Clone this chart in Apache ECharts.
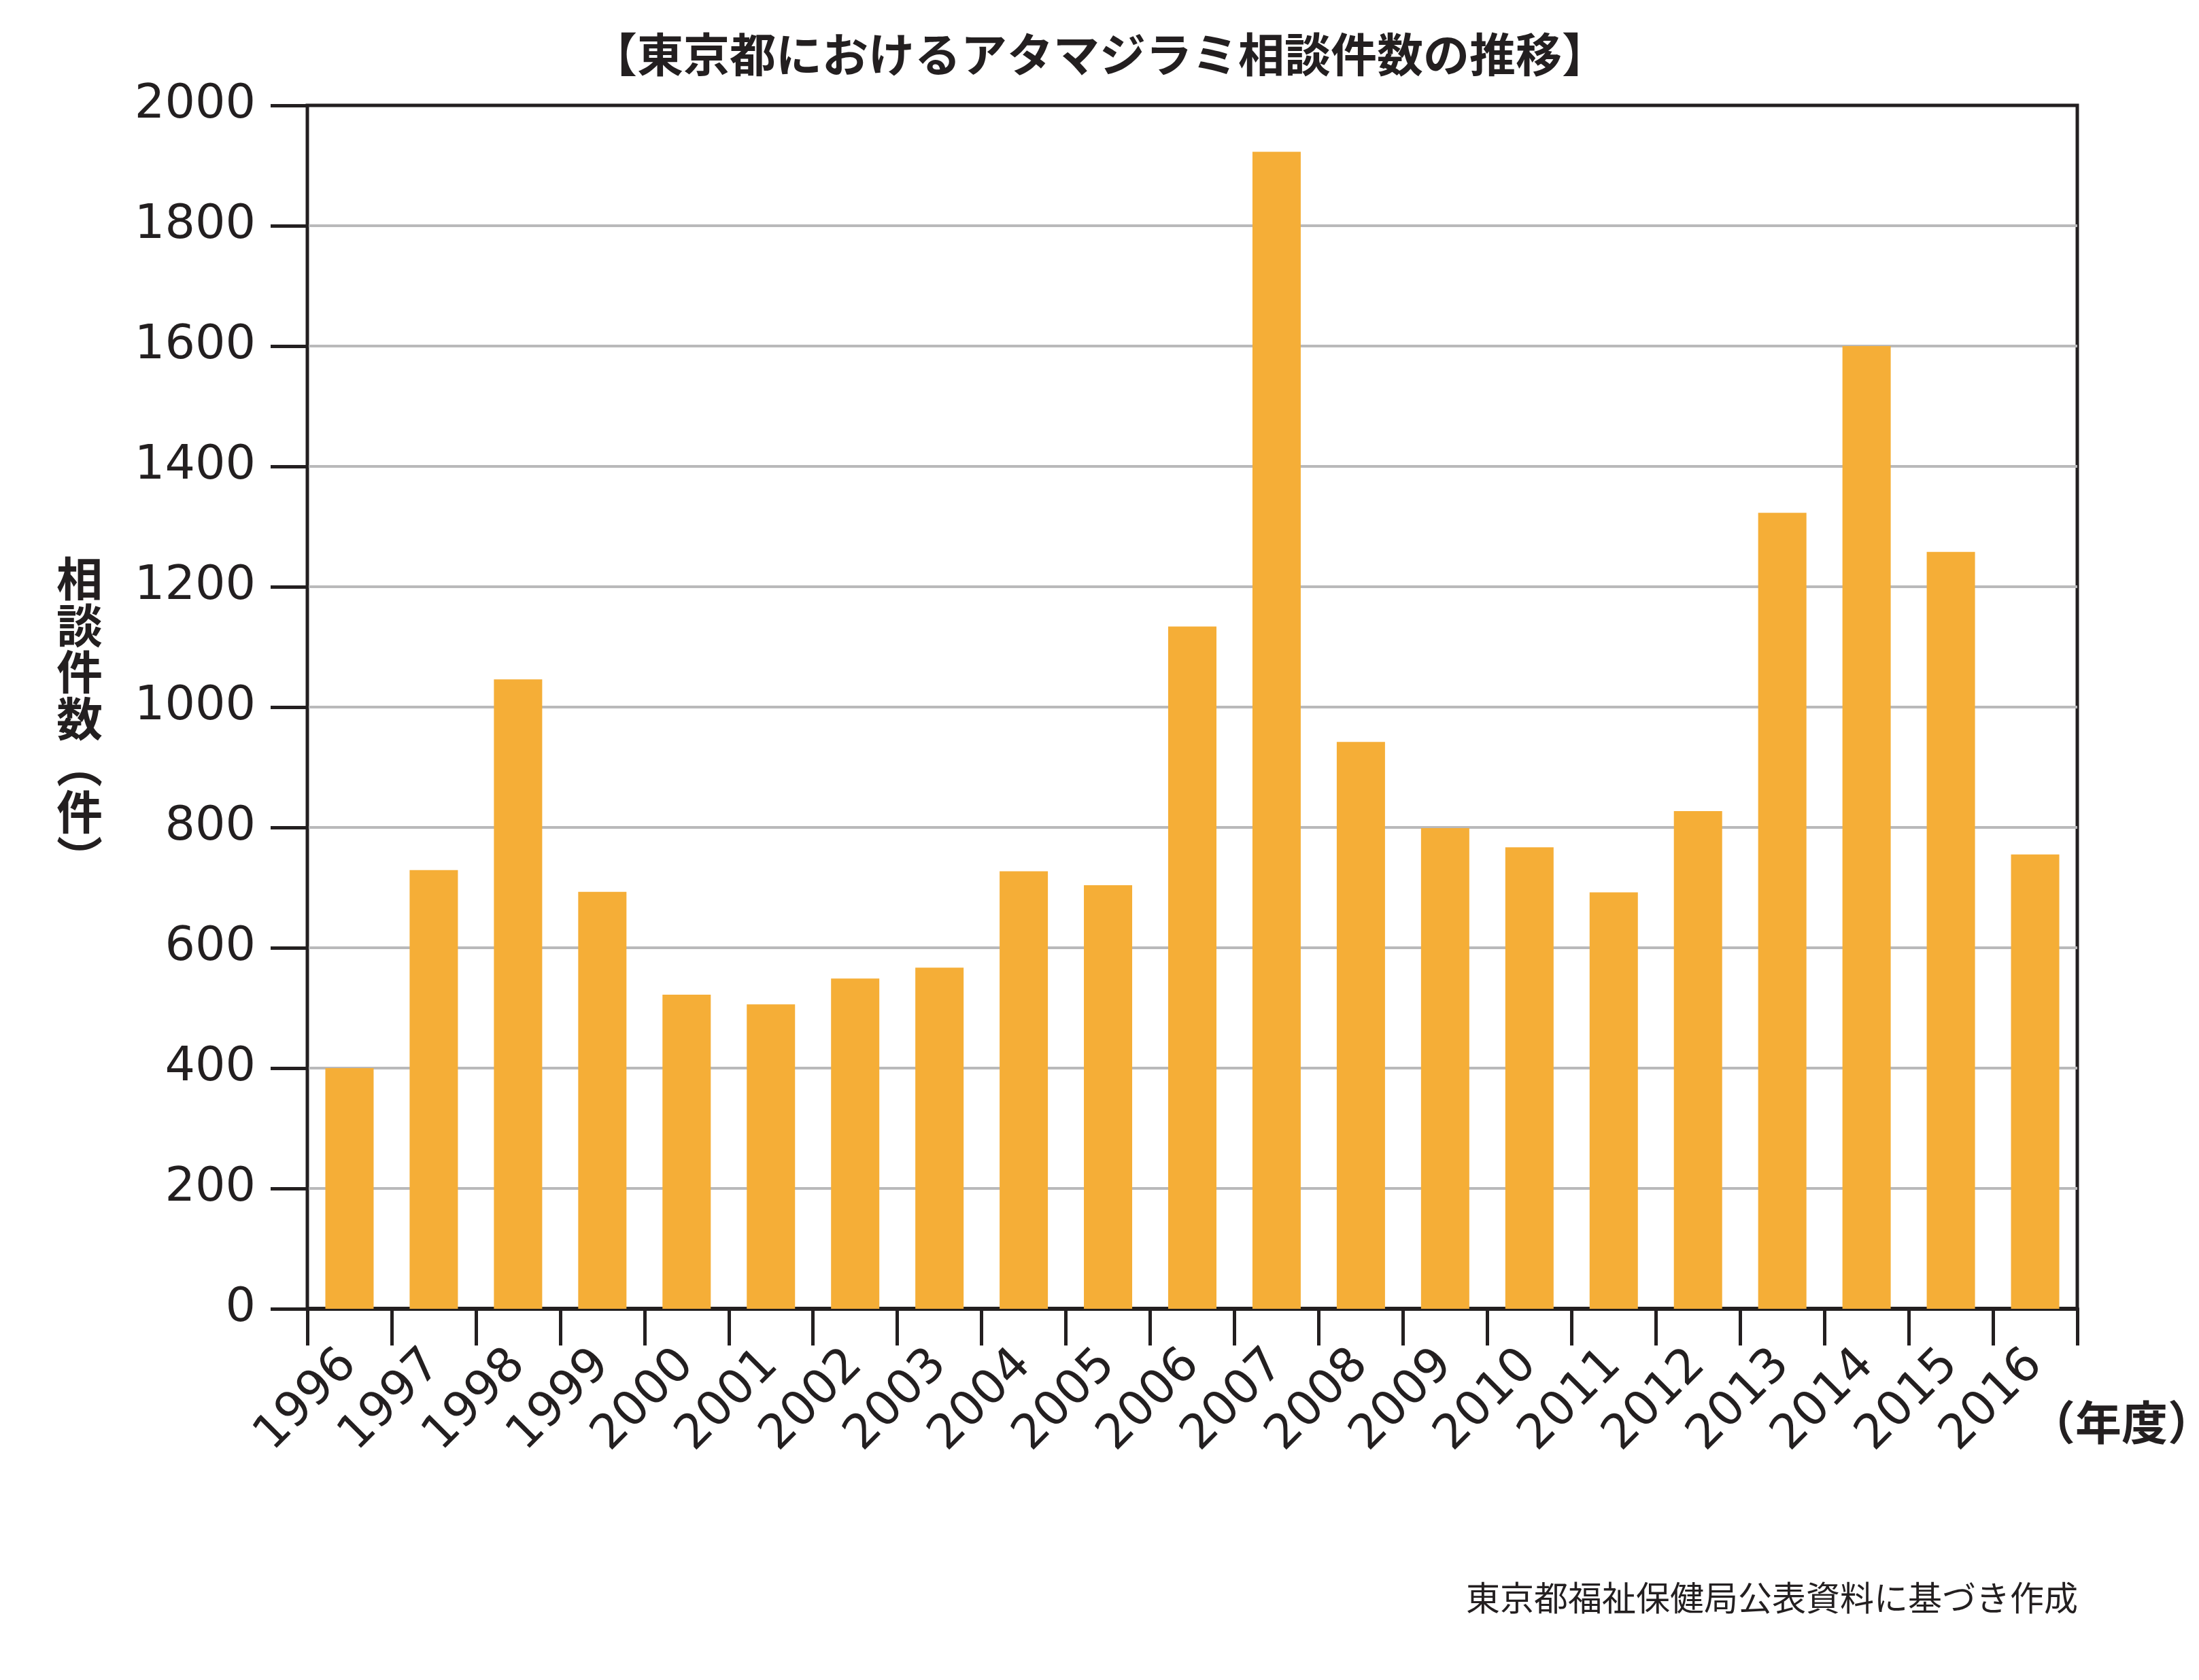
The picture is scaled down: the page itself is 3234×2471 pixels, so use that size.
<!DOCTYPE html>
<html>
<head>
<meta charset="utf-8">
<script src="https://cdn.jsdelivr.net/npm/echarts@6/dist/echarts.min.js"></script>
<style>
    html, body { margin: 0; padding: 0; background: #fff; }
    #chart { width: 3234px; height: 2471px; }
</style>
</head>
<body>
<div id="chart"></div>
<script>
// 年度
var years = ['1996', '1997', '1998', '1999', '2000', '2001', '2002', '2003', '2004', '2005', '2006',
    '2007', '2008', '2009', '2010', '2011', '2012', '2013', '2014', '2015', '2016'];
// 相談件数（件）
var counts = [400, 729, 1046, 693, 522, 506, 549, 567, 727, 704, 1134,
    1923, 942, 799, 767, 692, 827, 1323, 1600, 1258, 755];
// 縦軸の目盛り
var yMin = 0;
var yMax = 2000;
var yStep = 200;

var ink = '#231f20';
var jp = '"Noto Sans CJK JP", sans-serif';
var num = '"DejaVu Sans", sans-serif';

var chart = echarts.init(document.getElementById('chart'));

var option = {
    backgroundColor: '#fff',
    animation: false,
    title: {
        text: '【東京都におけるアタマジラミ相談件数の推移】',
        left: 'center',
        top: 46,
        padding: 0,
        textStyle: {
            fontFamily: jp,
            fontSize: 68,
            fontWeight: 'bold',
            color: ink
        }
    },
    grid: {
        left: 452,
        right: 179,
        top: 155,
        bottom: 546,
        show: true,
        borderColor: ink,
        borderWidth: 5,
        outerBoundsMode: 'none'
    },
    xAxis: {
        type: 'category',
        data: years,
        axisLine: { lineStyle: { color: ink, width: 6 } },
        axisTick: {
            show: true,
            interval: 0,
            alignWithLabel: false,
            length: 54,
            lineStyle: { color: ink, width: 5 }
        },
        axisLabel: {
            interval: 0,
            rotate: 45,
            margin: 72,
            fontFamily: num,
            fontSize: 70,
            color: ink
        }
    },
    yAxis: {
        type: 'value',
        min: yMin,
        max: yMax,
        interval: yStep,
        axisLine: { show: true, lineStyle: { color: ink, width: 4 } },
        axisTick: { show: true, length: 54, lineStyle: { color: ink, width: 5 } },
        axisLabel: {
            margin: 76,
            fontFamily: num,
            fontSize: 70,
            color: ink,
            formatter: function (v) { return String(v); }
        },
        splitLine: {
            showMinLine: false,
            showMaxLine: false,
            lineStyle: { color: '#b9b9ba', width: 4 }
        }
    },
    graphic: [
        {
            type: 'text',
            x: 117,
            y: 1057,
            style: {
                text: ['相', '談', '件', '数', '︵', '件', '︶'].join('\n'),
                font: 'bold 68px ' + jp,
                lineHeight: 68.5,
                fill: ink,
                align: 'center',
                verticalAlign: 'middle'
            }
        },
        {
            type: 'text',
            x: 3120,
            y: 2092,
            style: {
                text: '（年度）',
                font: 'bold 68px ' + jp,
                fill: ink,
                align: 'center',
                verticalAlign: 'middle'
            }
        },
        {
            type: 'text',
            x: 3056,
            y: 2350,
            style: {
                text: '東京都福祉保健局公表資料に基づき作成',
                font: '50px ' + jp,
                fill: ink,
                align: 'right',
                verticalAlign: 'middle'
            }
        }
    ],
    series: [
        {
            name: '相談件数',
            type: 'bar',
            data: counts,
            barWidth: 71,
            itemStyle: { color: '#f5ae37' }
        }
    ]
};

chart.setOption(option);
</script>
</body>
</html>
